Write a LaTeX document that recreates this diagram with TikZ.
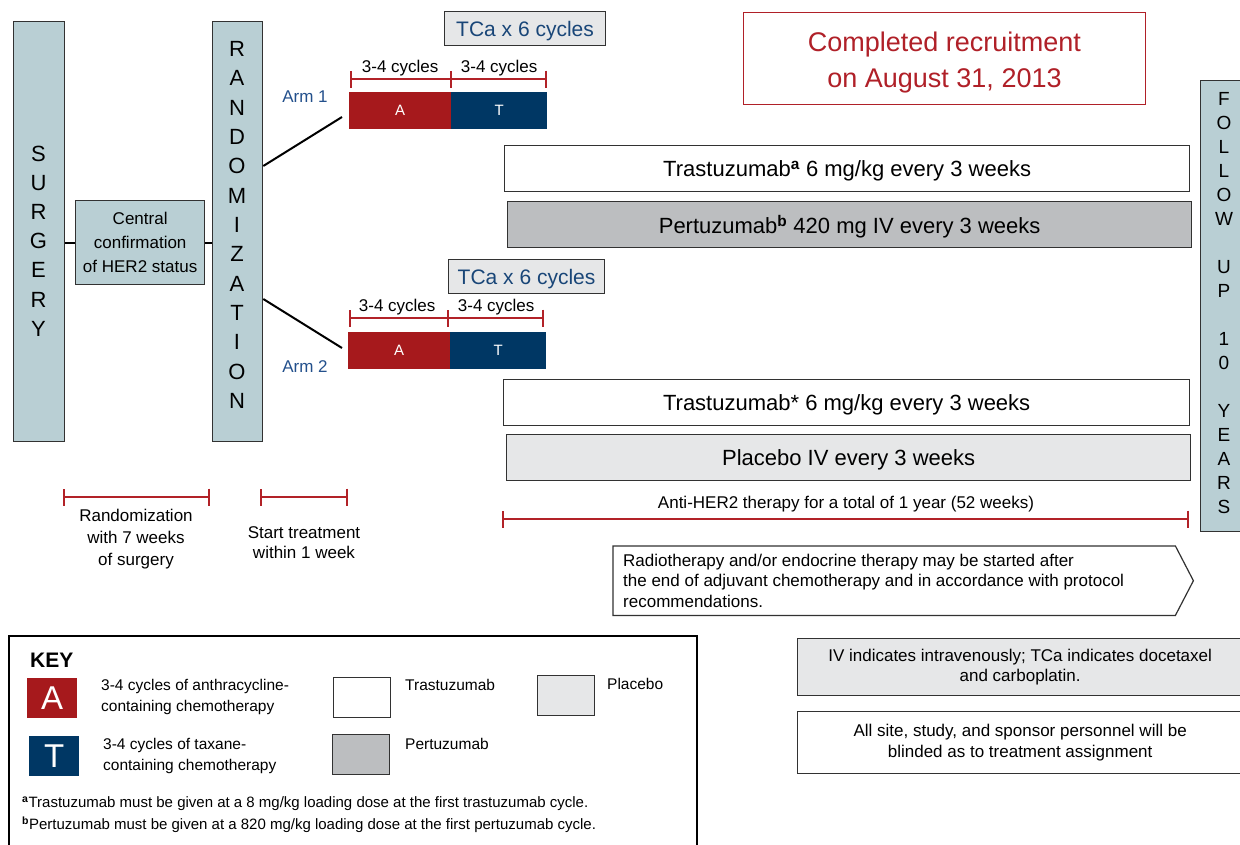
\documentclass[tikz,border=0pt]{standalone}
\usepackage{fontspec}
\setmainfont{Liberation Sans}
\usetikzlibrary{arrows.meta,calc}
\definecolor{pale}{RGB}{185,207,212}
\definecolor{ared}{RGB}{166,25,28}
\definecolor{tnavy}{RGB}{0,55,100}
\definecolor{armblue}{RGB}{35,80,140}
\definecolor{tcablue}{RGB}{25,70,120}
\definecolor{pgray}{RGB}{188,190,192}
\definecolor{lgray}{RGB}{230,231,232}
\definecolor{recred}{RGB}{176,32,40}
\definecolor{brred}{RGB}{178,34,40}
\definecolor{edge}{RGB}{50,50,50}
\newcommand\fs[2]{\fontsize{#1}{#2}\selectfont}
\begin{document}
\begin{tikzpicture}[x=1pt,y=-1pt,
 box/.style={draw=edge, line width=1.3pt, inner sep=0pt, anchor=north west},
 palebox/.style={box, fill=pale},
 bar/.style={box, minimum height=46, text depth=0pt, font=\fs{22}{26}},
 chem/.style={inner sep=0pt, anchor=north west, minimum height=37, text=white, font=\fs{15}{18}},
 bracket/.style={draw=brred, line width=2pt, arrows={Bar[width=17pt,line width=2pt]-Bar[width=17pt,line width=2pt]}},
 tick/.style={draw=brred, line width=2pt},
 lbl/.style={inner sep=0pt, font=\fs{17}{22}},
 vlet/.style={inner sep=0pt, align=center},
 conn/.style={draw=black, line width=2.2pt},
 keysq/.style={draw=edge, line width=1.2pt, inner sep=0pt, anchor=north west, minimum width=57, minimum height=40},
 keytxt/.style={inner sep=0pt, anchor=west, align=left, font=\fs{15.5}{21}},
 tcabox/.style={box, fill=lgray, line width=1.1pt, minimum height=34, text depth=0pt, text=tcablue, font=\fs{21}{24}},
]
\useasboundingbox (0,0) rectangle (1240,844);
\fill[white] (0,0) rectangle (1240,844);

% left column
\node[palebox, minimum width=51, minimum height=420] (surg) at (13,21) {};
\node[vlet, font=\fs{22}{29.2}] (surgtxt) at (38.5,241) {S\\U\\R\\G\\E\\R\\Y};
\node[palebox, minimum width=129, minimum height=84, align=center, font=\fs{17}{24}] (cc) at (75,200) {Central\\confirmation\\of HER2 status};
\node[palebox, minimum width=50, minimum height=420] (rand) at (212,21) {};
\node[vlet, font=\fs{22}{29.33}] (randtxt) at (237,225) {R\\A\\N\\D\\O\\M\\I\\Z\\A\\T\\I\\O\\N};
\draw[conn] (surg.east |- cc.west) -- (cc.west);
\draw[conn] (cc.east) -- (cc.east -| rand.west);

% arm 1
\node[tcabox, minimum width=161] (tca1) at (444,11) {TCa x 6 cycles};
\node[chem, fill=ared, minimum width=102] (a1A) at (349,92) {A};
\node[chem, fill=tnavy, minimum width=96] (a1T) at (451,92) {T};
\node[lbl, text=armblue] (arm1) at (305,97) {Arm 1};
\coordinate (a1e) at (342,117);
\draw[conn, line width=2pt] ($(rand.north east)+(0,145)$) -- (a1e);
\draw[bracket] ($(a1A.north west)+(1,-13)$) -- ($(a1T.north east)+(0,-13)$);
\draw[tick] ($(a1T.north west)+(0,-21)$) -- ($(a1T.north west)+(0,-4)$);
\node[lbl, anchor=base] (c1a) at ($(a1A.north)+(0,-20)$) {3-4 cycles};
\node[lbl, anchor=base] (c1t) at ($(a1T.north)+(0,-20)$) {3-4 cycles};

% arm 2
\node[tcabox, minimum width=156] (tca2) at (448,259) {TCa x 6 cycles};
\node[chem, fill=ared, minimum width=102] (a2A) at (348,332) {A};
\node[chem, fill=tnavy, minimum width=96] (a2T) at (450,332) {T};
\node[lbl, text=armblue] (arm2) at (305,367) {Arm 2};
\coordinate (a2e) at (342,348);
\draw[conn, line width=2pt] ($(rand.north east)+(0,278)$) -- (a2e);
\draw[bracket] ($(a2A.north west)+(1,-14)$) -- ($(a2T.north east)+(-2,-14)$);
\draw[tick] ($(a2T.north west)+(-2,-22)$) -- ($(a2T.north west)+(-2,-5)$);
\node[lbl, anchor=base] (c2a) at ($(a2A.north)+(-2,-21)$) {3-4 cycles};
\node[lbl, anchor=base] (c2t) at ($(a2T.north)+(-2,-21)$) {3-4 cycles};

% anti-HER2 bars
\node[bar, fill=white, minimum width=685] (tr1) at (504,145) {Trastuzumab\textsuperscript{\textbf{a}} 6 mg/kg every 3 weeks};
\node[bar, fill=pgray, minimum width=684] (pe1) at (507,201) {Pertuzumab\textsuperscript{\textbf{b}} 420 mg IV every 3 weeks};
\node[bar, fill=white, minimum width=686] (tr2) at (503,379) {Trastuzumab* 6 mg/kg every 3 weeks};
\node[bar, fill=lgray, minimum width=684] (pl2) at (506,434) {Placebo IV every 3 weeks};
\node[lbl] (anti) at (846,504) {Anti-HER2 therapy for a total of 1 year (52 weeks)};
\coordinate (ab1) at (502,519);
\coordinate (ab2) at (1189,519);
\draw[bracket] (ab1) -- (ab2);

% follow up
\node[palebox, minimum width=60, minimum height=451] (fu) at (1200,80) {};
\node[vlet, font=\fs{19}{24}] (futxt) at (1224,303) {F\\O\\L\\L\\O\\W\\~\\U\\P\\~\\1\\0\\~\\Y\\E\\A\\R\\S};

% recruitment
\node[box, draw=recred, line width=1pt, minimum width=402, minimum height=92] (rec) at (743,12) {};
\node[inner sep=0pt, text=recred, align=center, font=\fs{27}{36}] (rectxt) at ($(rec.center)+(0,4)$) {Completed recruitment\\on August 31, 2013};

% timing brackets
\coordinate (t1a) at (63,497);
\coordinate (t1b) at (210,497);
\coordinate (t2a) at (260,497);
\coordinate (t2b) at (348,497);
\draw[bracket] (t1a) -- (t1b);
\draw[bracket] (t2a) -- (t2b);
\node[lbl, align=center] (rw) at (136,539) {Randomization\\with 7 weeks\\of surgery};
\node[lbl, align=center, font=\fs{17}{20}] (st) at (304,543) {Start treatment\\within 1 week};

% radiotherapy
\node[anchor=north west, minimum width=562, minimum height=69, inner sep=0pt] (rbox) at (613,546) {};
\draw[edge, line width=1.2pt] (rbox.north west) -- (rbox.north east) -- ($(rbox.east)+(18,0)$) -- (rbox.south east) -- (rbox.south west) -- cycle;
\node[inner sep=0pt, anchor=west, align=left, font=\fs{17}{20.5}] (radio) at ($(rbox.west)+(10,0)$) {Radiotherapy and/or endocrine therapy may be started after\\the end of adjuvant chemotherapy and in accordance with protocol\\recommendations.};

% notes
\node[box, fill=lgray, minimum width=445, minimum height=57, align=center, font=\fs{17}{20}] (iv) at (797,638) {IV indicates intravenously; TCa indicates docetaxel\\and carboplatin.};
\node[box, fill=white, minimum width=445, minimum height=62, align=center, font=\fs{17}{21}] (blind) at (797,711) {All site, study, and sponsor personnel will be\\blinded as to treatment assignment};

% key
\node[box, draw=black, line width=2pt, minimum width=688, minimum height=230] (key) at (8,635) {};
\node[inner sep=0pt, anchor=west, font=\bfseries\fs{21}{24}] (keyt) at (30,660) {KEY};
\node[anchor=north west, fill=ared, minimum width=50, minimum height=40, inner sep=0pt, text=white, font=\fs{33}{36}] (kA) at (27,678) {A};
\node[keytxt] (kAt) at (101,696.5) {3-4 cycles of anthracycline-\\containing chemotherapy};
\node[anchor=north west, fill=tnavy, minimum width=50, minimum height=40, inner sep=0pt, text=white, font=\fs{33}{36}] (kT) at (29,736) {T};
\node[keytxt] (kTt) at (103,756) {3-4 cycles of taxane-\\containing chemotherapy};
\node[keysq, fill=white] (ktr) at (333,677) {};
\node[keytxt] (ktrt) at (405,685) {Trastuzumab};
\node[keysq, fill=pgray] (kpe) at (332,734) {};
\node[keytxt] (kpet) at (405,744) {Pertuzumab};
\node[keysq, fill=lgray] (kpl) at (537,675) {};
\node[keytxt] (kplt) at (607,684) {Placebo};
\node[inner sep=0pt, anchor=west, align=left, font=\fs{15}{22}] (foot) at (22,815) {\textsuperscript{\textbf{a}}Trastuzumab must be given at a 8 mg/kg loading dose at the first trastuzumab cycle.\\\textsuperscript{\textbf{b}}Pertuzumab must be given at a 820 mg/kg loading dose at the first pertuzumab cycle.};
\end{tikzpicture}
\end{document}
